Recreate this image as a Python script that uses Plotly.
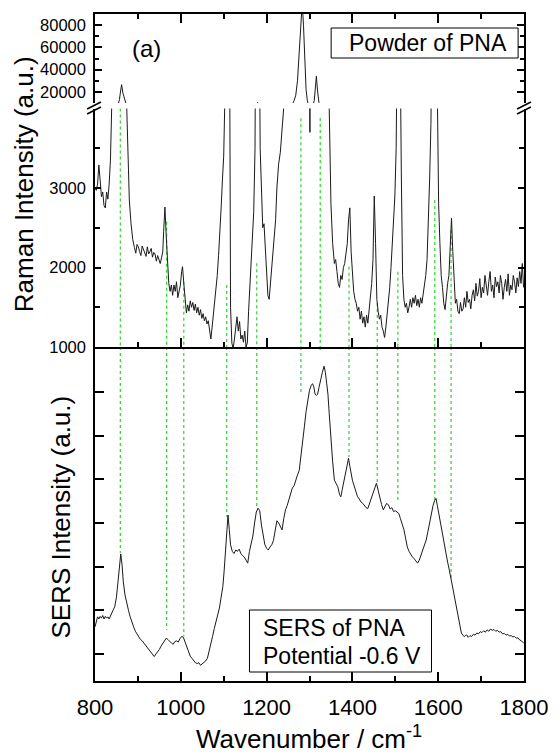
import plotly.graph_objects as go

# ---------------- data ----------------
raman_wn = [800, 803, 806, 809, 812, 815, 818, 821, 824, 827, 830, 833, 836, 839, 842, 846, 850, 854, 857, 859,
            862, 865, 868, 871, 874, 877, 880, 884, 888, 892, 895, 898, 901, 904, 907, 910, 913, 916, 919, 922,
            925, 928, 931, 934, 937, 940, 943, 946, 949, 952, 955, 958, 960, 963, 966, 969, 972, 975, 978, 981,
            984, 987, 990, 993, 996, 999, 1002, 1004, 1007, 1010, 1013, 1016, 1019, 1022, 1025, 1028, 1031, 1034,
            1037, 1040, 1043, 1046, 1049, 1052, 1055, 1058, 1061, 1064, 1067, 1070, 1073, 1076, 1079, 1082, 1085,
            1088, 1091, 1094, 1097, 1100, 1103, 1106, 1109, 1112, 1114, 1116, 1119, 1122, 1125, 1128, 1131, 1134,
            1137, 1140, 1143, 1146, 1149, 1152, 1155, 1158, 1161, 1164, 1167, 1170, 1173, 1176, 1179, 1182, 1185,
            1188, 1191, 1194, 1197, 1200, 1203, 1206, 1209, 1212, 1215, 1218, 1221, 1224, 1228, 1232, 1236, 1240,
            1244, 1248, 1252, 1256, 1260, 1264, 1268, 1272, 1276, 1280, 1283, 1286, 1289, 1292, 1295, 1298, 1301,
            1304, 1308, 1311, 1314, 1316, 1319, 1322, 1326, 1330, 1334, 1338, 1342, 1346, 1350, 1354, 1358, 1361,
            1364, 1367, 1370, 1373, 1376, 1379, 1382, 1385, 1388, 1391, 1394, 1397, 1400, 1403, 1406, 1409, 1412,
            1415, 1418, 1421, 1424, 1427, 1430, 1433, 1436, 1439, 1442, 1445, 1448, 1451, 1454, 1457, 1460, 1463,
            1466, 1469, 1472, 1475, 1478, 1481, 1484, 1487, 1490, 1493, 1496, 1499, 1502, 1505, 1508, 1511, 1514,
            1517, 1520, 1523, 1526, 1529, 1532, 1535, 1538, 1541, 1544, 1547, 1550, 1553, 1556, 1559, 1562, 1565,
            1568, 1571, 1574, 1577, 1580, 1583, 1586, 1589, 1592, 1595, 1598, 1601, 1604, 1607, 1610, 1613, 1616,
            1619, 1622, 1625, 1628, 1631, 1634, 1637, 1640, 1643, 1646, 1649, 1652, 1655, 1658, 1661, 1664, 1667,
            1670, 1673, 1676, 1679, 1682, 1685, 1688, 1691, 1694, 1697, 1700, 1703, 1706, 1709, 1712, 1715, 1718,
            1721, 1724, 1727, 1730, 1733, 1736, 1739, 1742, 1745, 1748, 1751, 1754, 1757, 1760, 1763, 1766, 1769,
            1772, 1775, 1778, 1781, 1784, 1787, 1790, 1793, 1796, 1799]
raman_I = [3000, 2970, 3050, 3290, 3100, 2890, 2950, 2780, 2750, 2950, 2860, 3050, 3350, 3700, 4000, 4800, 6500, 9000, 13000, 19000,
           26500, 19000, 14000, 10000, 4000, 3300, 2850, 2550, 2350, 2250, 2180, 2290, 2260, 2200, 2150, 2270, 2230, 2180, 2140, 2260,
           2170, 2200, 2240, 2130, 2190, 2170, 2080, 2150, 2110, 2050, 2120, 2200, 2450, 2760, 2400, 2000, 1800, 1700, 1780, 1650,
           1780, 1700, 1820, 1620, 1700, 1780, 1950, 2010, 1800, 1550, 1430, 1530, 1450, 1580, 1500, 1560, 1460, 1540,
           1430, 1500, 1400, 1470, 1360, 1420, 1330, 1380, 1290, 1330, 1200, 1100, 1250, 1420, 1550, 1700, 1900,
           2150, 2400, 2750, 3100, 3400, 4200, 5500, 7500, 8000, 4500, 1500, 1050, 980, 1100, 1250, 1380, 1200,
           1320, 1100, 1150, 1060, 1200, 1000, 1050, 1450, 1750, 2000, 2250, 2700, 3500, 5500, 10500, 6000, 3500,
           2900, 2500, 2550, 2200, 1900, 1650, 1600, 1800, 1900, 2100, 2300, 2600, 3000, 3300, 3450, 3700, 3900,
           4300, 5000, 6000, 7500, 9000, 12000, 17000, 30000, 55000, 85000, 100000, 80000, 45000, 22000, 12000, 7000, 3700,
           5000, 8000, 12000, 25000, 34000, 20000, 10500, 7000, 5800, 5000, 4600, 4300, 4000, 2800, 2300, 2050, 2100,
           1950, 1800, 1750, 1900, 1850, 2000, 2050, 2150, 2300, 2600, 2750, 2200, 1900, 1700, 1600, 1550, 1450,
           1500, 1350, 1450, 1300, 1380, 1250, 1400, 1300, 1450, 1600, 1800, 2100, 2900, 2300, 1600, 1450, 1350,
           1400, 1250, 1200, 1120, 1250, 1400, 1550, 1750, 2000, 2300, 2600, 2900, 3500, 5000, 7000, 5000, 3200,
           1900, 1600, 1500, 1550, 1430, 1500, 1600, 1500, 1620, 1550, 1650, 1520, 1600, 1500, 1620, 1550, 1650,
           1750, 1900, 2100, 2500, 3100, 3800, 5000, 7000, 8000, 6500, 4200, 2800, 2300, 1900, 1750, 1550, 1470,
           1650, 1800, 1900, 2300, 2620, 2200, 1750, 1550, 1600, 1450, 1420, 1560, 1450, 1480, 1620, 1500, 1700,
           1560, 1600, 1480, 1650, 1720, 1580, 1800, 1640, 1700, 1860, 1620, 1750, 1680, 1900, 1780, 1650, 1820,
           1950, 1700, 1780, 1620, 1880, 1760, 1820, 1680, 1900, 1800, 1600, 1750, 1850, 1700, 1920, 1650, 1780,
           1720, 1900, 1820, 1680, 1870, 1760, 1950, 1800, 2050, 1750]

sers_wn = [800, 803, 806, 809, 812, 815, 818, 821, 824, 827, 830, 833, 836, 839, 842, 846, 850, 854, 857, 860,
           863, 866, 870, 874, 878, 882, 886, 890, 894, 898, 902, 906, 910, 914, 918, 922, 926, 930, 934, 938,
           942, 946, 950, 954, 958, 962, 966, 970, 974, 978, 982, 986, 990, 994, 998, 1002, 1006, 1010, 1014, 1018,
           1022, 1026, 1030, 1034, 1038, 1042, 1046, 1050, 1054, 1058, 1062, 1066, 1070, 1074, 1078, 1082, 1086,
           1090, 1094, 1098, 1101, 1104, 1107, 1110, 1113, 1116, 1120, 1124, 1128, 1132, 1136, 1140, 1144, 1148,
           1152, 1156, 1160, 1164, 1168, 1172, 1176, 1180, 1184, 1188, 1192, 1196, 1200, 1204, 1208, 1212, 1216,
           1220, 1224, 1228, 1232, 1236, 1240, 1244, 1248, 1252, 1256, 1260, 1264, 1268, 1272, 1276, 1280, 1284,
           1288, 1292, 1296, 1300, 1304, 1307, 1310, 1313, 1316, 1319, 1322, 1326, 1330, 1334, 1337, 1340, 1343,
           1346, 1350, 1354, 1358, 1362, 1366, 1370, 1373, 1376, 1380, 1384, 1388, 1391, 1394, 1397, 1400, 1404,
           1408, 1412, 1416, 1420, 1424, 1428, 1432, 1436, 1440, 1444, 1448, 1452, 1456, 1460, 1464, 1468, 1472,
           1476, 1480, 1484, 1488, 1492, 1496, 1500, 1504, 1508, 1512, 1516, 1520, 1524, 1528, 1532, 1536, 1540,
           1544, 1548, 1552, 1556, 1560, 1564, 1568, 1572, 1576, 1580, 1584, 1588, 1592, 1595, 1598, 1602, 1606,
           1610, 1614, 1618, 1622, 1626, 1630, 1634, 1638, 1642, 1646, 1650, 1654, 1658, 1662, 1666, 1670, 1674,
           1678, 1682, 1686, 1690, 1694, 1698, 1702, 1706, 1710, 1714, 1718, 1722, 1726, 1730, 1734, 1738, 1742,
           1746, 1750, 1754, 1758, 1762, 1766, 1770, 1774, 1778, 1782, 1786, 1790, 1794, 1798, 1800]
sers_I = [1.62, 1.72, 1.85, 1.80, 1.86, 1.82, 1.88, 1.80, 1.86, 1.82, 1.85, 1.80, 1.88, 1.92, 2.00, 2.08, 2.30, 2.69, 3.00, 3.29,
          3.05, 2.65, 2.35, 2.15, 2.00, 1.85, 1.72, 1.62, 1.52, 1.45, 1.38, 1.33, 1.30, 1.25, 1.20, 1.14, 1.10, 1.05, 0.98, 0.94,
          1.00, 1.05, 1.10, 1.18, 1.25, 1.30, 1.36, 1.33, 1.28, 1.25, 1.22, 1.28, 1.30, 1.27, 1.35, 1.40, 1.38, 1.28, 1.17, 1.05,
          0.95, 0.90, 0.85, 0.80, 0.78, 0.80, 0.74, 0.77, 0.80, 0.84, 0.90, 1.05, 1.25, 1.40, 1.58, 1.75, 1.90,
          2.05, 2.30, 2.54, 2.90, 3.40, 3.90, 4.18, 3.85, 3.50, 3.35, 3.30, 3.38, 3.35, 3.40, 3.30, 3.25, 3.22,
          3.15, 3.08, 3.35, 3.55, 3.70, 4.00, 4.25, 4.34, 4.28, 3.95, 3.70, 3.50, 3.42, 3.38, 3.45, 3.50, 3.60,
          3.85, 4.05, 4.00, 3.90, 3.84, 4.10, 4.30, 4.40, 4.55, 4.70, 4.80, 4.85, 5.00, 5.10, 5.20, 5.50, 5.90,
          6.20, 6.55, 6.85, 7.04, 7.15, 7.19, 7.12, 6.95, 6.92, 6.95, 7.10, 7.30, 7.45, 7.59, 7.45, 7.20, 6.95,
          6.50, 5.90, 5.40, 4.98, 4.90, 4.83, 4.65, 4.60, 4.75, 4.95, 5.10, 5.30, 5.48, 5.30, 5.10, 4.98, 4.85,
          4.72, 4.60, 4.55, 4.48, 4.45, 4.40, 4.35, 4.33, 4.45, 4.55, 4.65, 4.78, 4.91, 4.75, 4.55, 4.42, 4.30,
          4.38, 4.45, 4.41, 4.32, 4.35, 4.26, 4.28, 4.24, 4.22, 4.10, 3.98, 3.85, 3.65, 3.45, 3.35, 3.28, 3.22,
          3.18, 3.12, 3.08, 3.15, 3.28, 3.40, 3.50, 3.61, 3.80, 4.00, 4.22, 4.40, 4.52, 4.56, 4.40, 4.18, 3.95,
          3.70, 3.46, 3.28, 3.10, 2.92, 2.72, 2.50, 2.28, 2.05, 1.85, 1.65, 1.48, 1.42, 1.40, 1.44, 1.38, 1.42,
          1.40, 1.45, 1.43, 1.48, 1.46, 1.51, 1.49, 1.53, 1.50, 1.55, 1.52, 1.57, 1.54, 1.56, 1.52, 1.54, 1.50,
          1.51, 1.46, 1.47, 1.43, 1.45, 1.41, 1.42, 1.39, 1.40, 1.36, 1.37, 1.32, 1.30, 1.26, 1.24]

# green guide lines: position, top in Raman panel, end on SERS curve
guide_wn = [859, 967, 1007, 1107, 1177, 1280, 1325, 1392, 1458, 1506, 1592, 1630]
guide_raman_top = [4000, 2576, 1821, 1780, 2053, 3877, 3881, 2010, 1553, 1947, 2849, 2472]
guide_sers_end = [3.31, 1.55, 1.40, 4.14, 4.34, 6.93, 7.89, 5.51, 4.91, 4.46, 4.46, 2.69]

x_ticks = [800, 1000, 1200, 1400, 1600, 1800]
top_ticks = [20000, 40000, 60000, 80000]
top_tick_text = ["20000", "40000", "60000", "80000"]
top_minor = [30000, 50000, 70000]
mid_ticks = [1000, 2000, 3000]
mid_tick_text = ["1000", "2000", "3000"]
mid_minor = [1500, 2500, 3500]
sers_ticks = [1, 2, 3, 4, 5, 6, 7]

x_range = [800, 1800]
top_range = [10000, 90000]
mid_range = [1000, 4000]
sers_range = [0.38, 8.03]

# ---------------- layout geometry ----------------
W, H = 560, 754
ML, MR, MT, MB = 95, 29, 14, 73
PW, PH = W - ML - MR, H - MT - MB


def py(pix):  # pixel y -> paper
    return (H - MB - pix) / PH


def px(pix):
    return (pix - ML) / PW


FONT = "Liberation Sans, Arial, sans-serif"
LINE = "#1a1a1a"
GREEN = "rgb(40,215,40)"

fig = go.Figure()

# guide lines
gx_m, gy_m, gx_b, gy_b = [], [], [], []
for wn, top, end in zip(guide_wn, guide_raman_top, guide_sers_end):
    gx_m += [wn, wn, None]
    gy_m += [top, mid_range[0], None]
    gx_b += [wn, wn, None]
    gy_b += [sers_range[1], end, None]

fig.add_trace(go.Scatter(x=gx_m, y=gy_m, xaxis="x2", yaxis="y2", mode="lines",
                         line=dict(color=GREEN, width=1.2, dash="dot"), hoverinfo="skip"))
fig.add_trace(go.Scatter(x=gx_b, y=gy_b, xaxis="x", yaxis="y", mode="lines",
                         line=dict(color=GREEN, width=1.2, dash="dot"), hoverinfo="skip"))

# spectra
fig.add_trace(go.Scatter(x=raman_wn, y=raman_I, xaxis="x2", yaxis="y2", mode="lines",
                         line=dict(color=LINE, width=1)))
fig.add_trace(go.Scatter(x=raman_wn, y=raman_I, xaxis="x3", yaxis="y3", mode="lines",
                         line=dict(color=LINE, width=1)))
fig.add_trace(go.Scatter(x=sers_wn, y=sers_I, xaxis="x", yaxis="y", mode="lines",
                         line=dict(color=LINE, width=1)))

d_bot = [0, py(347)]
d_mid = [py(347), py(347 - 3 * 79.5)]
d_top = [py(103), 1]

axis_common = dict(showline=True, linecolor="black", linewidth=1.5, showgrid=False,
                   zeroline=False, ticks="inside", tickcolor="black", tickwidth=1.5)

xminor = dict(dtick=100, tick0=800, ticks="inside", ticklen=5, tickcolor="black", tickwidth=1.5)

fig.update_layout(
    width=W, height=H,
    margin=dict(l=ML, r=MR, t=MT, b=MB),
    paper_bgcolor="white", plot_bgcolor="white",
    showlegend=False,
    font=dict(family=FONT, color="black"),
    xaxis=dict(axis_common, domain=[0, 1], anchor="y", range=x_range, tickvals=x_ticks,
               ticktext=[str(v) for v in x_ticks],
               ticklen=9, minor=xminor, tickfont=dict(size=22), ticklabelstandoff=6),
    xaxis2=dict(axis_common, domain=[0, 1], anchor="y2", range=x_range, tickvals=x_ticks,
                ticklen=9, minor=xminor, showticklabels=False, matches="x"),
    xaxis3=dict(axis_common, domain=[0, 1], anchor="y3", side="top", range=x_range, tickvals=x_ticks,
                ticklen=9, minor=xminor, showticklabels=False, matches="x"),
    yaxis=dict(axis_common, domain=d_bot, anchor="x", range=sers_range, tickvals=sers_ticks,
               ticklen=9, showticklabels=False, mirror="ticks"),
    yaxis2=dict(axis_common, domain=d_mid, anchor="x2", range=mid_range, tickvals=mid_ticks,
                ticktext=mid_tick_text,
                ticklen=6, mirror="ticks", tickfont=dict(size=16.5), ticklabelstandoff=4,
                minor=dict(tickvals=mid_minor, ticks="inside", ticklen=5, tickcolor="black", tickwidth=1.5)),
    yaxis3=dict(axis_common, domain=d_top, anchor="x3", range=top_range, tickvals=top_ticks,
                ticktext=top_tick_text,
                ticklen=7, mirror="ticks", tickfont=dict(size=16.5), ticklabelstandoff=4,
                minor=dict(tickvals=top_minor, ticks="inside", ticklen=4, tickcolor="black", tickwidth=1.5)),
)

# axis break marks
for (x0, y0, x1, y1) in [(87, 109, 101, 102), (87, 114, 101, 107),
                         (524, 109, 538, 102), (524, 114, 538, 107)]:
    fig.add_shape(type="line", xref="paper", yref="paper",
                  x0=px(x0), y0=py(y0), x1=px(x1), y1=py(y1),
                  line=dict(color="black", width=1.5))

# label boxes
fig.add_shape(type="rect", xref="paper", yref="paper",
              x0=px(335), x1=px(525), y0=py(58), y1=py(28),
              line=dict(color="black", width=1), fillcolor="white", layer="above")
fig.add_shape(type="rect", xref="paper", yref="paper",
              x0=px(252), x1=px(437), y0=py(672), y1=py(610),
              line=dict(color="black", width=1), fillcolor="white", layer="above")

ann = []
ann.append(dict(text="(a)", x=px(147), y=py(48), xref="paper", yref="paper",
                showarrow=False, font=dict(size=24), xanchor="center", yanchor="middle"))
ann.append(dict(text="Powder of PNA", x=px(433), y=py(43), xref="paper", yref="paper",
                showarrow=False, font=dict(size=23), xanchor="center", yanchor="middle"))
ann.append(dict(text="SERS of PNA", x=px(264), y=py(628), xref="paper", yref="paper",
                showarrow=False, font=dict(size=23), xanchor="left", yanchor="middle"))
ann.append(dict(text="Potential -0.6 V", x=px(264), y=py(656), xref="paper", yref="paper",
                showarrow=False, font=dict(size=23), xanchor="left", yanchor="middle"))
ann.append(dict(text="Raman Intensity (a.u.)", x=px(23), y=py(184), xref="paper", yref="paper",
                showarrow=False, font=dict(size=26), textangle=-90, xanchor="center", yanchor="middle"))
ann.append(dict(text="SERS Intensity (a.u.)", x=px(60), y=py(517), xref="paper", yref="paper",
                showarrow=False, font=dict(size=26), textangle=-90, xanchor="center", yanchor="middle"))
ann.append(dict(text="Wavenumber / cm<sup>-1</sup>", x=px(312), y=py(737), xref="paper", yref="paper",
                showarrow=False, font=dict(size=26), xanchor="center", yanchor="middle"))
fig.update_layout(annotations=ann)

fig.write_html("out.html")
